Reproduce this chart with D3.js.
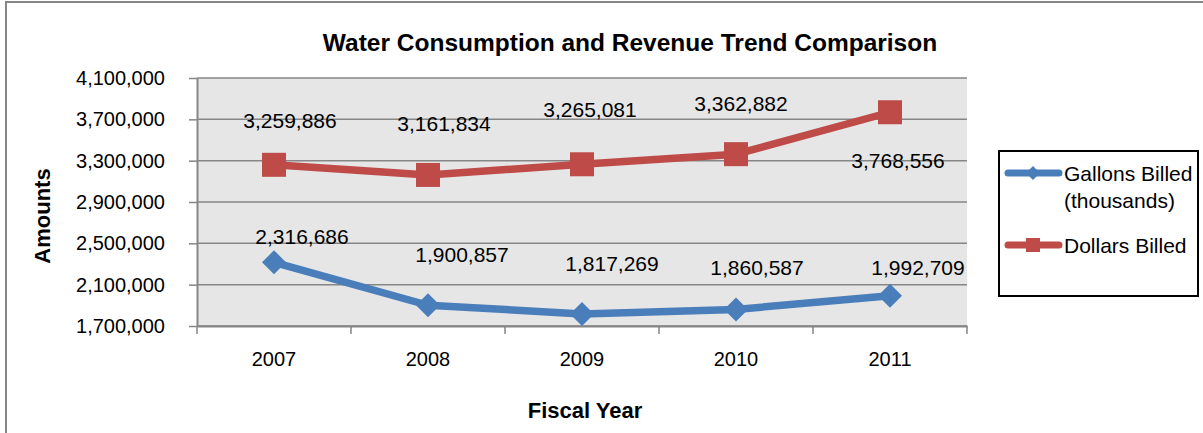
<!DOCTYPE html>
<html>
<head>
<meta charset="utf-8">
<script src="https://cdn.jsdelivr.net/npm/d3@7"></script>
<style>
  html, body { margin: 0; padding: 0; background: #fff; }
  svg { display: block; }
  text { font-family: "Liberation Sans", Arial, sans-serif; fill: #000; }
</style>
</head>
<body>
<svg id="chart" width="1203" height="433"></svg>
<script>
// ---- data ----
const years = ["2007", "2008", "2009", "2010", "2011"];
const gallonsBilled = [2316686, 1900857, 1817269, 1860587, 1992709];
const dollarsBilled = [3259886, 3161834, 3265081, 3362882, 3768556];
const yTicks = [1700000, 2100000, 2500000, 2900000, 3300000, 3700000, 4100000];
const seriesNames = ["Gallons Billed (thousands)", "Dollars Billed"];
// label offsets (pixels from point) – manually placed labels in the original
const gallonsLabelOffset = [[28, -26], [34, -51], [30, -50], [21, -42], [28, -28]];
const dollarsLabelOffset = [[16, -44], [16, -51], [8, -55], [5, -51], [8, 48]];

const svg = d3.select("#chart");
const fmt = d3.format(",");

const plot = { left: 197, right: 967, top: 78, bottom: 326 };
const x = d3.scaleBand().domain(years).range([plot.left, plot.right]);
const y = d3.scaleLinear().domain([1700000, 4100000]).range([plot.bottom, plot.top]);
const cx = d => x(d) + x.bandwidth() / 2;

const gridColor = "#868686";
const blue = "#4a7ebb";
const red = "#be4b48";

// outer chart border
svg.append("rect").attr("x", 6).attr("y", 2).attr("width", 1210).attr("height", 450)
  .attr("fill", "#fff").attr("stroke", gridColor).attr("stroke-width", 2);

// plot background
svg.append("rect").attr("x", plot.left).attr("y", plot.top)
  .attr("width", plot.right - plot.left).attr("height", plot.bottom - plot.top)
  .attr("fill", "#e6e6e6");

// gridlines
svg.append("g").selectAll("line").data(yTicks).join("line")
  .attr("x1", plot.left).attr("x2", plot.right)
  .attr("y1", d => y(d)).attr("y2", d => y(d))
  .attr("stroke", gridColor).attr("stroke-width", 1.5);

// y axis
const yAxis = d3.axisLeft(y).tickValues(yTicks).tickFormat(fmt).tickSizeInner(8).tickSizeOuter(0).tickPadding(24);
const gy = svg.append("g").attr("transform", `translate(${plot.left},0)`).call(yAxis);
gy.select(".domain").attr("stroke", gridColor).attr("stroke-width", 2);
gy.selectAll(".tick line").attr("stroke", gridColor).attr("stroke-width", 1.5);
gy.selectAll(".tick text").attr("font-size", 20).attr("font-family", "Liberation Sans, Arial, sans-serif").attr("fill", "#000");

// x axis
const xAxis = d3.axisBottom(x).tickSize(0).tickPadding(26);
const gx = svg.append("g").attr("transform", `translate(0,${plot.bottom})`).call(xAxis);
gx.select(".domain").attr("stroke", gridColor).attr("stroke-width", 2);
gx.selectAll(".tick text").attr("font-size", 20).attr("font-family", "Liberation Sans, Arial, sans-serif").attr("fill", "#000");
// category boundary ticks
const bounds = years.map(d => x(d)).concat([x(years[years.length - 1]) + x.bandwidth()]);
svg.append("g").selectAll("line").data(bounds).join("line")
  .attr("x1", d => d).attr("x2", d => d)
  .attr("y1", plot.bottom).attr("y2", plot.bottom + 8)
  .attr("stroke", gridColor).attr("stroke-width", 1.5);

// lines
const line = d3.line().x(d => cx(d.year)).y(d => y(d.v));
const gData = years.map((yr, i) => ({ year: yr, v: gallonsBilled[i] }));
const dData = years.map((yr, i) => ({ year: yr, v: dollarsBilled[i] }));

svg.append("path").datum(dData).attr("d", line).attr("fill", "none")
  .attr("stroke", red).attr("stroke-width", 7.5).attr("stroke-linejoin", "round");
svg.append("path").datum(gData).attr("d", line).attr("fill", "none")
  .attr("stroke", blue).attr("stroke-width", 7.5).attr("stroke-linejoin", "round");

// markers
const sq = 24;
svg.append("g").selectAll("rect").data(dData).join("rect")
  .attr("x", d => cx(d.year) - sq / 2).attr("y", d => y(d.v) - sq / 2)
  .attr("width", sq).attr("height", sq).attr("fill", red);
const dm = 12;
svg.append("g").selectAll("path").data(gData).join("path")
  .attr("d", d => {
    const px = cx(d.year), py = y(d.v);
    return `M${px},${py - dm}L${px + dm},${py}L${px},${py + dm}L${px - dm},${py}Z`;
  })
  .attr("fill", blue);

// data labels
svg.append("g").selectAll("text").data(dData).join("text")
  .attr("x", (d, i) => cx(d.year) + dollarsLabelOffset[i][0])
  .attr("y", (d, i) => y(d.v) + dollarsLabelOffset[i][1])
  .attr("text-anchor", "middle").attr("dominant-baseline", "central")
  .attr("font-size", 21).text(d => fmt(d.v));
svg.append("g").selectAll("text").data(gData).join("text")
  .attr("x", (d, i) => cx(d.year) + gallonsLabelOffset[i][0])
  .attr("y", (d, i) => y(d.v) + gallonsLabelOffset[i][1])
  .attr("text-anchor", "middle").attr("dominant-baseline", "central")
  .attr("font-size", 21).text(d => fmt(d.v));

// title
svg.append("text").attr("x", 630).attr("y", 42)
  .attr("text-anchor", "middle").attr("dominant-baseline", "central")
  .attr("font-size", 24.5).attr("font-weight", "bold")
  .text("Water Consumption and Revenue Trend Comparison");

// axis titles
svg.append("text").attr("transform", "translate(42,216) rotate(-90)")
  .attr("text-anchor", "middle").attr("dominant-baseline", "central")
  .attr("font-size", 22).attr("font-weight", "bold").text("Amounts");
svg.append("text").attr("x", 585).attr("y", 410)
  .attr("text-anchor", "middle").attr("dominant-baseline", "central")
  .attr("font-size", 22).attr("font-weight", "bold").text("Fiscal Year");

// legend
const lg = svg.append("g");
lg.append("rect").attr("x", 999).attr("y", 151).attr("width", 199).attr("height", 145)
  .attr("fill", "#fff").attr("stroke", "#000").attr("stroke-width", 2);
const legendItems = [
  { lines: ["Gallons Billed", "(thousands)"], color: blue, marker: "diamond", y: 173 },
  { lines: ["Dollars Billed"], color: red, marker: "square", y: 245 }
];
legendItems.forEach(it => {
  lg.append("line").attr("x1", 1008).attr("x2", 1059).attr("y1", it.y).attr("y2", it.y)
    .attr("stroke", it.color).attr("stroke-width", 7).attr("stroke-linecap", "round");
  if (it.marker === "diamond") {
    lg.append("path").attr("d", `M1033,${it.y - 7}L1040,${it.y}L1033,${it.y + 7}L1026,${it.y}Z`).attr("fill", it.color);
  } else {
    lg.append("rect").attr("x", 1026).attr("y", it.y - 7).attr("width", 14).attr("height", 14).attr("fill", it.color);
  }
  it.lines.forEach((t, j) => {
    lg.append("text").attr("x", 1064).attr("y", it.y + j * 27)
      .attr("dominant-baseline", "central").attr("font-size", 21).text(t);
  });
});
</script>
</body>
</html>
